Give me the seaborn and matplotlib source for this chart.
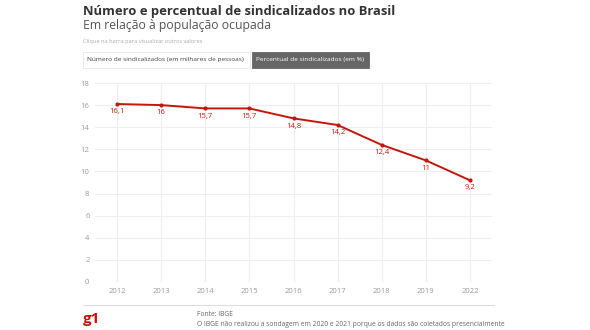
import matplotlib
matplotlib.use("Agg")
import matplotlib.pyplot as plt
import seaborn as sns
import pandas as pd
from matplotlib.patches import FancyBboxPatch

years = ["2012", "2013", "2014", "2015", "2016", "2017", "2018", "2019", "2022"]
percent = [16.1, 16.0, 15.7, 15.7, 14.8, 14.2, 12.4, 11.0, 9.2]
labels = ["16,1", "16", "15,7", "15,7", "14,8", "14,2", "12,4", "11", "9,2"]
yticks = [0, 2, 4, 6, 8, 10, 12, 14, 16, 18]

title = "Número e percentual de sindicalizados no Brasil"
subtitle = "Em relação à população ocupada"
hint = "Clique na barra para visualizar outros valores"
btn1 = "Número de sindicalizados (em milhares de pessoas)"
btn2 = "Percentual de sindicalizados (em %)"
source = "Fonte: IBGE"
note = "O IBGE não realizou a sondagem em 2020 e 2021 porque os dados são coletados presencialmente"

sns.set_theme(style="whitegrid")
plt.rcParams["font.family"] = ["Open Sans", "DejaVu Sans"]

RED = "#c4170c"
W, H = 590, 330
fig = plt.figure(figsize=(W / 100, H / 100), dpi=100)
fig.patch.set_facecolor("white")

def fx(px):
    return px / W

def fy(py):
    return 1 - py / H

ax = fig.add_axes([fx(95), fy(282), fx(492) - fx(95), fy(83) - fy(282)])
df = pd.DataFrame({"x": list(range(len(years))), "y": percent})
sns.lineplot(data=df, x="x", y="y", ax=ax, color=RED, linewidth=1.4)
sns.scatterplot(data=df, x="x", y="y", ax=ax, color=RED, s=9, edgecolor=RED, linewidth=0, zorder=3)
for i, (v, lab) in enumerate(zip(percent, labels)):
    ax.annotate(lab, (i, v), xytext=(0, -3), textcoords="offset points",
                ha="center", va="top", fontsize=5.5, color=RED)

ax.set_xlim(-0.5, len(years) - 0.5)
ax.set_ylim(0, 18)
ax.set_yticks(yticks)
ax.set_xticks(range(len(years)))
ax.set_xticklabels(years)
ax.set_xlabel("")
ax.set_ylabel("")
ax.tick_params(axis="both", labelsize=5.5, colors="#999999", length=0, pad=4)
ax.grid(True, color="#eeeeee", linewidth=0.8)
for s in ax.spines.values():
    s.set_visible(False)
ax.set_facecolor("white")

fig.text(fx(83), fy(12), title, fontsize=9.4, fontweight="bold", color="#333333", va="center", ha="left")
fig.text(fx(83), fy(26), subtitle, fontsize=8.8, color="#555555", va="center", ha="left")
fig.text(fx(83), fy(42), hint, fontsize=4.1, color="#aaaaaa", va="center", ha="left")

# buttons
b1 = FancyBboxPatch((fx(83), fy(68)), fx(250) - fx(83), fy(52) - fy(68),
                    boxstyle="square,pad=0", transform=fig.transFigure,
                    facecolor="white", edgecolor="#e6e6e6", linewidth=0.6)
b2 = FancyBboxPatch((fx(252), fy(68)), fx(369) - fx(252), fy(52) - fy(68),
                    boxstyle="square,pad=0", transform=fig.transFigure,
                    facecolor="#666666", edgecolor="#666666", linewidth=0.6)
fig.add_artist(b1)
fig.add_artist(b2)
fig.text(fx(87), fy(60), btn1, fontsize=4.65, color="#444444", va="center", ha="left")
fig.text(fx(256), fy(60), btn2, fontsize=4.65, color="white", va="center", ha="left")

# footer
fig.add_artist(plt.Line2D([fx(83), fx(494)], [fy(305), fy(305)], transform=fig.transFigure,
                          color="#dddddd", linewidth=0.8))
fig.text(fx(83), fy(319), "g1", fontsize=11, fontweight="bold", color=RED, va="center", ha="left")
fig.text(fx(197), fy(315), source, fontsize=4.9, color="#666666", va="center", ha="left")
fig.text(fx(197), fy(324), note, fontsize=4.9, color="#666666", va="center", ha="left")

fig.savefig("out.png", dpi=100, facecolor="white")
